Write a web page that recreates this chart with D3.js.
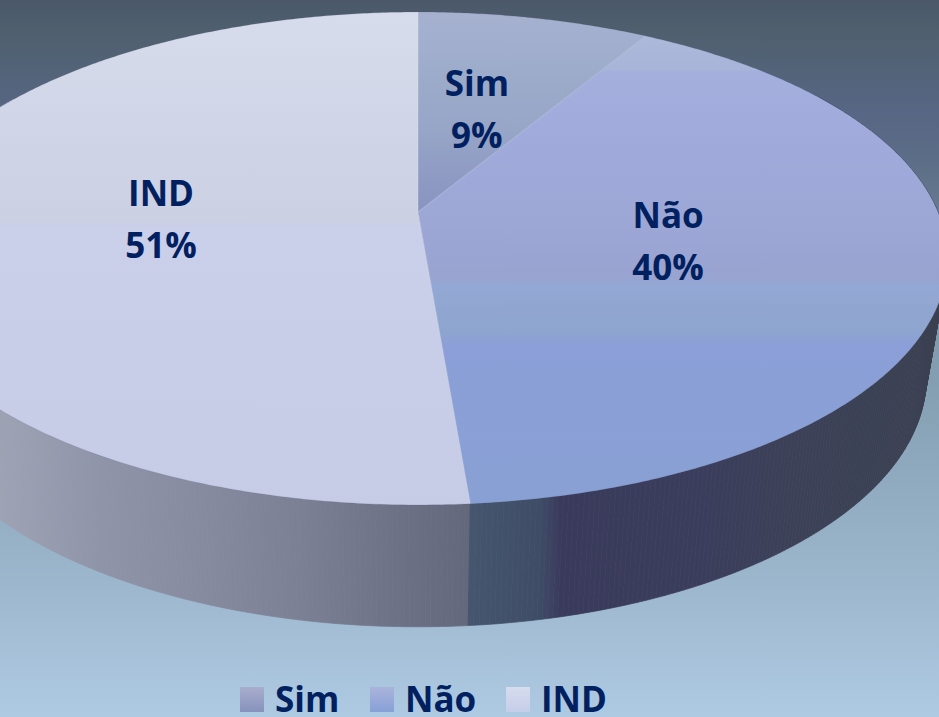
<!DOCTYPE html>
<html><head><meta charset="utf-8">
<script src="https://cdn.jsdelivr.net/npm/d3@7"></script>
<style>html,body{margin:0;padding:0;overflow:hidden;background:#8aa}svg{display:block}</style>
</head><body><svg id="c" width="939" height="717"></svg>
<script>
const categories = ["Sim", "Não", "IND"];
const values = [8.5, 40.2, 51.3];
const percentLabels = ["9%", "40%", "51%"];

const W = 939, H = 717;
const svg = d3.select("#c");
const defs = svg.append("defs");

function grad(id, stops, attrs) {
  const g = defs.append("linearGradient").attr("id", id);
  Object.entries(attrs).forEach(([k, v]) => g.attr(k, v));
  stops.forEach(([o, c]) => g.append("stop").attr("offset", o).attr("stop-color", c));
}
const vert = { gradientUnits: "userSpaceOnUse", x1: 0, x2: 0, y1: 0, y2: H };
const horiz = { gradientUnits: "userSpaceOnUse", x1: 0, x2: W, y1: 0, y2: 0 };
const at = y => y / H;
const atx = x => x / W;

grad("bg", [[0,"#4a5869"],[at(30),"#4f5f6e"],[at(70),"#536378"],[at(110),"#566684"],[at(170),"#5e6f88"],[at(230),"#6c8096"],
  [at(290),"#7d94a6"],[at(400),"#86a1b4"],[at(550),"#98b2c8"],[at(640),"#a4bfd6"],[1,"#aecae3"]], vert);
grad("t0", [[at(12),"#a6b1d0"],[at(70),"#9eaccb"],[at(130),"#97a5c7"],[at(170),"#909cc4"],[at(215),"#8893c0"]], vert);
grad("t1", [[at(30),"#aebada"],[at(70),"#a8b4d8"],[at(72),"#a5afde"],[at(140),"#a1abdb"],[at(225),"#9da7d6"],[at(278),"#98a3d0"],
  [at(285),"#93a8d4"],[at(330),"#8ea5cf"],[at(345),"#8c9fd8"],[at(505),"#88a0d4"]], vert);
grad("t2", [[at(12),"#d6dcec"],[at(70),"#d3d9e9"],[at(140),"#cfd5e7"],[at(222),"#cbd0e3"],[at(226),"#cacfea"],[at(505),"#c6cbe6"]], vert);
grad("s2", [[0,"#9ea3b4"],[atx(100),"#8f94a9"],[atx(200),"#868ba0"],[atx(300),"#7b8094"],[atx(400),"#6c7186"],[atx(467),"#63687c"]], horiz);
grad("s1", [[atx(468),"#46566f"],[atx(540),"#3f4c66"],[atx(560),"#3a3b5c"],[atx(700),"#3b3d5c"],[atx(790),"#3c4158"],[1,"#3a4050"]], horiz);
const box = { x1: 0, x2: 0, y1: 0, y2: 1 };
grad("l0", [[0,"#a9adcd"],[1,"#8692bc"]], box);
grad("l1", [[0,"#aab4dc"],[1,"#87a0d6"]], box);
grad("l2", [[0,"#d6dcee"],[1,"#c6cde8"]], box);

svg.append("rect").attr("width", W).attr("height", H).attr("fill", "url(#bg)");

// Perspective view of a disc: top rim and bottom rim
const k = 0.1886, apexX = 418;
const topRim = { B: 520, A: 237.7, Y: 212 };
const lowRim = { B: 499, A: 240, Y: 331 };
function proj(a, rho, rim) {
  const u = rho * Math.sin(a), v = -rho * Math.cos(a), d = 1 - k * v;
  return [apexX + rim.B * u / d, rim.Y + rim.A * v / d];
}
const arcs = d3.pie().sort(null).value(d => d)(values);
const TAU = Math.PI * 2, step = TAU / 720;
const line = d3.line();
const angles = (a0, a1) => d3.range(a0, a1, step).concat([a1]);

// Sides
const sideRanges = [[arcs[2].startAngle, arcs[2].startAngle + 2.2, "url(#s2)"],
                    [1.0, arcs[1].endAngle, "url(#s1)"]];
sideRanges.forEach(([a0, a1, fill]) => {
  const g = svg.append("g");
  const as = angles(a0, a1);
  d3.pairs(as).forEach(([p, q]) => {
    g.append("path")
      .attr("d", line([proj(p,1,topRim), proj(q,1,topRim), proj(q,1,lowRim), proj(p,1,lowRim)]) + "Z")
      .attr("fill", fill).attr("stroke", fill).attr("stroke-width", 0.7);
  });
});

// Top faces
arcs.forEach((d, i) => {
  const pts = [[apexX, topRim.Y]].concat(angles(d.startAngle, d.endAngle).map(a => proj(a, 1, topRim)));
  svg.append("path").attr("d", line(pts) + "Z").attr("fill", `url(#t${i})`);
});
// Rim darkening and slice seams
svg.append("path").attr("d", line(angles(0, TAU).map(a => proj(a, 1, topRim))) + "Z")
  .attr("fill", "none").attr("stroke", "#4a5070").attr("stroke-opacity", 0.15).attr("stroke-width", 1);
arcs.forEach(d => {
  svg.append("path").attr("d", line([[apexX, topRim.Y], proj(d.startAngle, 1, topRim)]))
    .attr("stroke", "#dfe4f2").attr("stroke-opacity", 0.3).attr("stroke-width", 1.2).attr("fill", "none");
});

// Data labels
const ink = "#00205f", font = "'Open Sans', sans-serif", fs = 35;
const labelAt = [[0.472, 15.1], [0.487, 105.6], [0.492, 265.1]];
arcs.forEach((d, i) => {
  const [x, y] = proj(labelAt[i][1] * Math.PI / 180, labelAt[i][0], topRim);
  const t = svg.append("text").attr("text-anchor", "middle").attr("font-family", font)
    .attr("font-weight", 700).attr("font-size", fs).attr("fill", ink);
  t.append("tspan").attr("x", x).attr("y", y - 16).text(categories[i]);
  t.append("tspan").attr("x", x).attr("y", y + 36).text(percentLabels[i]);
});

// Legend
const legendPos = { "Sim": 240, "Não": 370, "IND": 506 };
categories.forEach((c, i) => {
  svg.append("rect").attr("x", legendPos[c]).attr("y", 687).attr("width", 24).attr("height", 25)
    .attr("fill", `url(#l${i})`);
  svg.append("text").attr("x", legendPos[c] + 35).attr("y", 712).attr("font-family", font)
    .attr("font-weight", 700).attr("font-size", fs).attr("fill", ink).text(c);
});
</script></body></html>
